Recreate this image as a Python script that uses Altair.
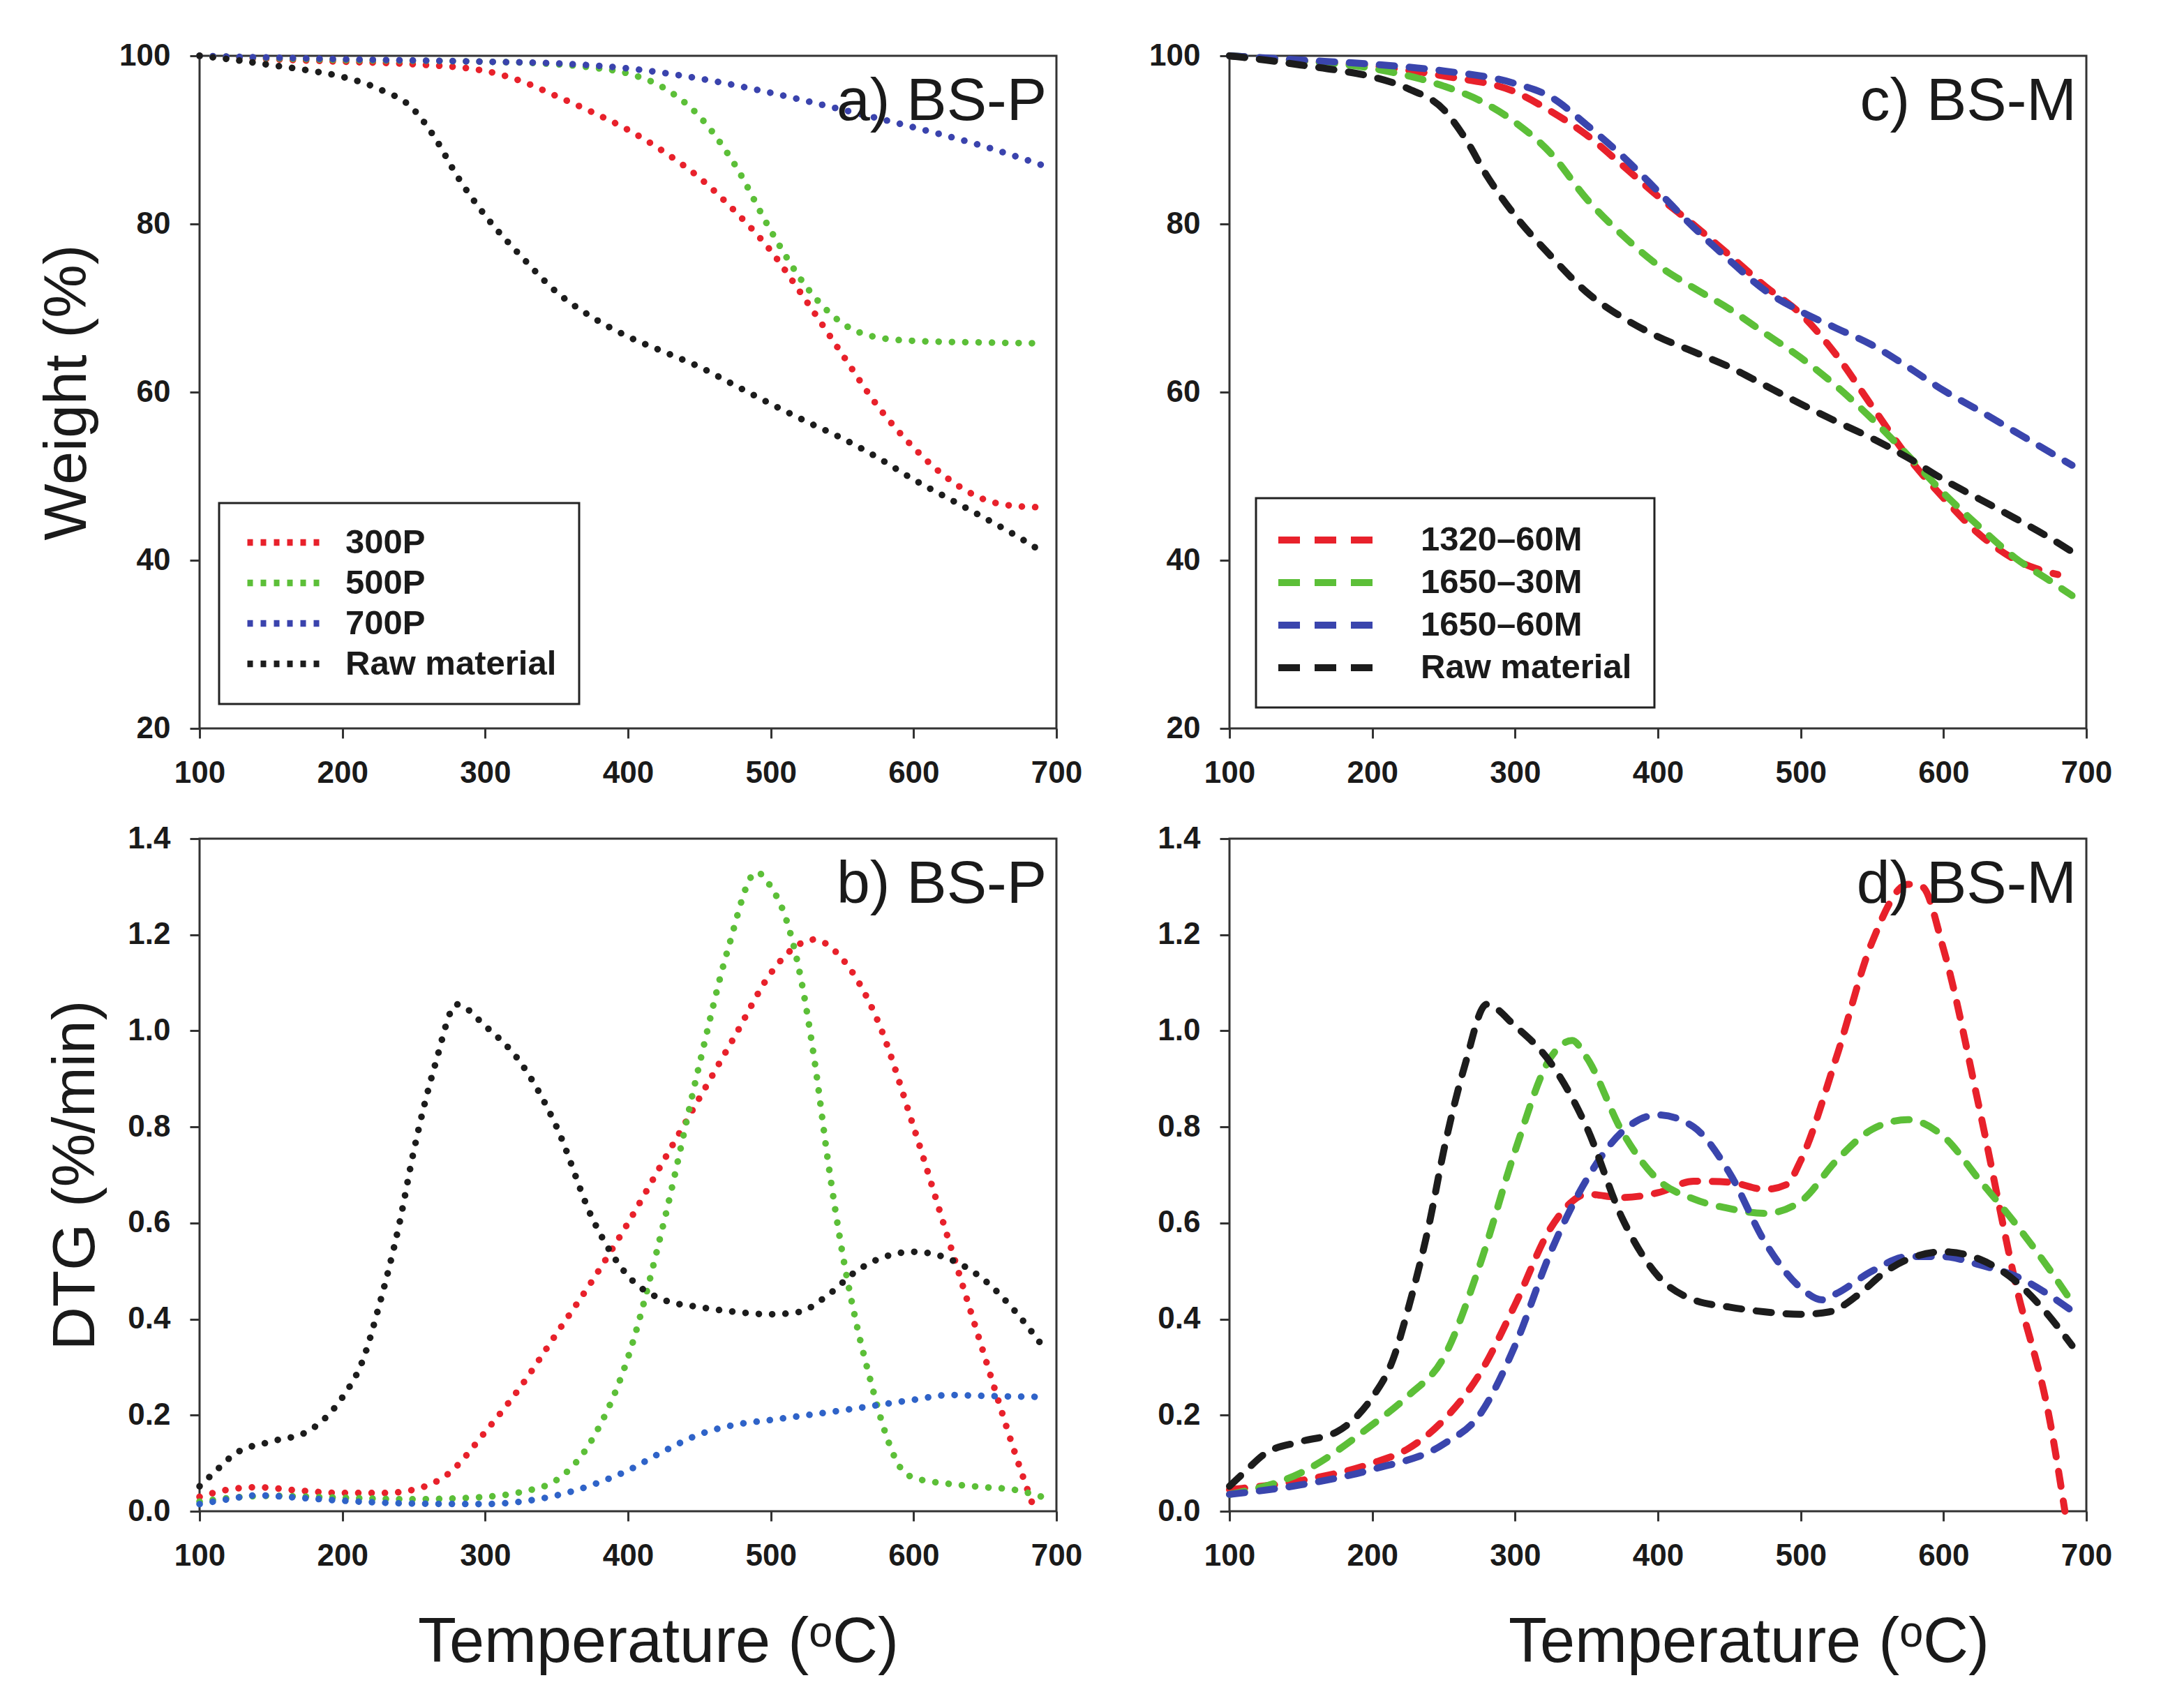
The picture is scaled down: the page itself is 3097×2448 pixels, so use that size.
import altair as alt
import pandas as pd

FONT = "Liberation Sans"
TXT = "#1a1a1a"

# ---------------- data ----------------
# Panel a) BS-P, weight (%)
A_300P_T = [100, 150, 200, 250, 300, 325, 350, 375, 400, 425, 450, 475, 500, 525, 550, 575, 600, 625, 650, 675, 690]
A_300P_W = [100, 99.6, 99.3, 99.0, 98.2, 97.0, 95.2, 93.3, 91.2, 88.6, 85.5, 81.5, 76.8, 70.8, 64.5, 58.3, 53.4, 49.6, 47.2, 46.4, 46.3]
A_500P_T = [100, 200, 300, 350, 375, 400, 425, 450, 475, 500, 525, 550, 575, 600, 650, 690]
A_500P_W = [100, 99.5, 99.3, 99.0, 98.6, 97.9, 96.2, 92.8, 87.0, 79.2, 72.5, 68.2, 66.5, 66.1, 65.9, 65.8]
A_700P_T = [100, 200, 300, 350, 400, 450, 500, 550, 600, 650, 690]
A_700P_W = [100, 99.6, 99.3, 99.1, 98.5, 97.3, 95.6, 93.6, 91.5, 89.2, 87.0]
RAW_W_T = [100, 125, 150, 175, 200, 225, 250, 265, 280, 300, 325, 350, 375, 400, 425, 450, 475, 500, 525, 550, 575, 600, 625, 650, 675, 690]
RAW_W = [100, 99.5, 98.9, 98.3, 97.5, 96.1, 93.6, 90.2, 85.8, 81.0, 76.2, 71.9, 68.9, 66.6, 64.8, 63.0, 60.8, 58.6, 56.5, 54.5, 52.2, 49.6, 47.3, 45.0, 42.6, 41.0]

# Panel c) BS-M, weight (%)
C_1320_60_T = [100, 150, 200, 250, 300, 325, 350, 375, 400, 425, 450, 475, 500, 525, 550, 575, 600, 625, 650, 665, 680]
C_1320_60_W = [100, 99.4, 98.8, 97.6, 95.7, 93.4, 90.6, 87.0, 83.3, 79.9, 76.3, 72.6, 69.3, 64.4, 58.3, 52.3, 47.4, 43.1, 40.1, 39.0, 38.3]
C_1650_30_T = [100, 150, 200, 250, 275, 300, 325, 350, 375, 400, 425, 450, 475, 500, 525, 550, 575, 600, 625, 650, 675, 690]
C_1650_30_W = [100, 99.4, 98.5, 96.4, 94.7, 92.1, 88.4, 83.0, 78.7, 75.1, 72.4, 69.9, 67.0, 64.1, 60.7, 56.8, 52.5, 48.0, 44.0, 40.3, 37.5, 35.8]
C_1650_60_T = [100, 150, 200, 250, 300, 325, 350, 375, 400, 425, 450, 475, 500, 525, 550, 575, 600, 625, 650, 675, 690]
C_1650_60_W = [100, 99.5, 99.0, 98.2, 96.7, 95.1, 91.8, 88.1, 83.9, 79.6, 75.7, 72.1, 69.6, 67.6, 65.6, 63.0, 60.2, 57.8, 55.3, 52.8, 51.3]

# Panel b) / d) raw material DTG (%/min)
RAW_D_T = [100, 110, 125, 150, 175, 190, 200, 215, 225, 240, 250, 265, 280, 300, 325, 350, 375, 400, 425, 450, 475, 500, 520, 540, 560, 580, 600, 625, 650, 670, 690]
RAW_D = [0.052, 0.08, 0.12, 0.145, 0.165, 0.20, 0.237, 0.32, 0.42, 0.60, 0.75, 0.93, 1.055, 1.01, 0.933, 0.80, 0.61, 0.49, 0.44, 0.425, 0.415, 0.41, 0.415, 0.45, 0.50, 0.53, 0.54, 0.525, 0.48, 0.42, 0.345]

# Panel b) BS-P, DTG (%/min)
B_300P_T = [100, 120, 140, 170, 200, 230, 250, 275, 300, 325, 350, 375, 400, 425, 450, 475, 500, 515, 530, 550, 575, 600, 625, 650, 670, 685]
B_300P_D = [0.03, 0.045, 0.05, 0.043, 0.038, 0.038, 0.045, 0.08, 0.165, 0.26, 0.37, 0.48, 0.60, 0.73, 0.86, 0.99, 1.12, 1.17, 1.19, 1.15, 1.02, 0.80, 0.56, 0.32, 0.13, 0.0]
B_500P_T = [100, 130, 150, 200, 250, 300, 325, 350, 375, 400, 425, 450, 470, 490, 500, 511, 521, 531, 540, 550, 560, 570, 580, 590, 600, 625, 650, 670, 690]
B_500P_D = [0.02, 0.03, 0.032, 0.028, 0.025, 0.03, 0.04, 0.065, 0.15, 0.32, 0.60, 0.93, 1.17, 1.33, 1.30, 1.23, 1.11, 0.93, 0.73, 0.54, 0.39, 0.27, 0.165, 0.094, 0.07, 0.057, 0.05, 0.045, 0.03]
B_700P_T = [100, 120, 140, 170, 200, 250, 300, 325, 350, 375, 400, 425, 450, 475, 500, 550, 600, 625, 650, 690]
B_700P_D = [0.015, 0.025, 0.033, 0.028, 0.022, 0.016, 0.015, 0.02, 0.033, 0.055, 0.085, 0.125, 0.16, 0.18, 0.19, 0.21, 0.232, 0.242, 0.24, 0.238]

# Panel d) BS-M, DTG (%/min)
D_1320_60_T = [100, 150, 200, 225, 250, 275, 300, 325, 340, 350, 375, 400, 425, 450, 475, 490, 500, 525, 550, 575, 585, 600, 625, 650, 675, 685]
D_1320_60_D = [0.045, 0.064, 0.10, 0.13, 0.19, 0.285, 0.43, 0.59, 0.645, 0.66, 0.653, 0.663, 0.687, 0.685, 0.67, 0.68, 0.73, 0.945, 1.185, 1.305, 1.30, 1.17, 0.84, 0.48, 0.18, 0.0]
D_1650_30_T = [100, 150, 200, 225, 250, 275, 300, 325, 340, 350, 375, 400, 425, 450, 475, 500, 525, 550, 575, 600, 625, 650, 675, 690]
D_1650_30_D = [0.035, 0.08, 0.18, 0.24, 0.32, 0.51, 0.75, 0.945, 0.98, 0.945, 0.79, 0.69, 0.65, 0.63, 0.62, 0.645, 0.73, 0.795, 0.815, 0.78, 0.69, 0.60, 0.50, 0.435]
D_1650_60_T = [100, 150, 200, 250, 275, 300, 325, 350, 375, 400, 425, 450, 475, 500, 515, 525, 550, 575, 600, 625, 650, 690]
D_1650_60_D = [0.035, 0.055, 0.087, 0.14, 0.20, 0.345, 0.54, 0.69, 0.79, 0.825, 0.80, 0.705, 0.56, 0.465, 0.44, 0.453, 0.50, 0.53, 0.53, 0.513, 0.49, 0.417]

P_SERIES = ["300P", "500P", "700P", "Raw material"]
M_SERIES = ["1320\u201360M", "1650\u201330M", "1650\u201360M", "Raw material"]
PANEL_LABELS = ["a) BS-P", "b) BS-P", "c) BS-M", "d) BS-M"]
X_TICKS = [100, 200, 300, 400, 500, 600, 700]
W_TICKS = [20, 40, 60, 80, 100]
D_TICKS = [0.0, 0.2, 0.4, 0.6, 0.8, 1.0, 1.2, 1.4]

RED, GREEN, BLACK = "#e8212b", "#5cbf38", "#1c1c1c"
P_COLORS_A = [RED, GREEN, "#3a43ad", BLACK]
P_COLORS_B = [RED, GREEN, "#2f63c8", BLACK]
M_COLORS = [RED, GREEN, "#3a45ad", BLACK]


def frame(series_names, pairs):
    rows = []
    for name, (ts, vs) in zip(series_names, pairs):
        for t, v in zip(ts, vs):
            rows.append({"T": t, "v": v, "s": name})
    return pd.DataFrame(rows)


df_a = frame(P_SERIES, [(A_300P_T, A_300P_W), (A_500P_T, A_500P_W), (A_700P_T, A_700P_W), (RAW_W_T, RAW_W)])
df_b = frame(P_SERIES, [(B_300P_T, B_300P_D), (B_500P_T, B_500P_D), (B_700P_T, B_700P_D), (RAW_D_T, RAW_D)])
df_c = frame(M_SERIES, [(C_1320_60_T, C_1320_60_W), (C_1650_30_T, C_1650_30_W), (C_1650_60_T, C_1650_60_W), (RAW_W_T, RAW_W)])
df_d = frame(M_SERIES, [(D_1320_60_T, D_1320_60_D), (D_1650_30_T, D_1650_30_D), (D_1650_60_T, D_1650_60_D), (RAW_D_T, RAW_D)])

W, H = 1228, 964
DOT = dict(strokeDash=[0.1, 19], strokeCap="round", strokeWidth=9.5)
DASH = dict(strokeDash=[22, 21], strokeCap="round", strokeWidth=10)

AX = dict(labelFont=FONT, labelFontSize=44, labelFontWeight="bold", labelColor=TXT,
          titleFont=FONT, titleFontWeight="normal", titleColor=TXT,
          tickSize=14, tickWidth=3, tickColor="#333333", domain=False, grid=False,
          labelPadding=28, labelFlush=False)


def legend(x, y, half_len, dash, sw, sym_offset, label_offset):
    s = (2 * half_len / 3.0) ** 2
    return alt.Legend(orient="none", legendX=x, legendY=y, title=None,
                      symbolType="M-3,0H3", symbolSize=s, symbolStrokeWidth=sw,
                      symbolDash=dash, symbolFillColor="transparent",
                      labelFont=FONT, labelFontSize=49, labelFontWeight="bold",
                      labelColor=TXT, labelOffset=label_offset, labelLimit=0,
                      strokeColor="#222222", fillColor="white", padding=32,
                      rowPadding=8, symbolOffset=sym_offset)


def panel(df, series, colors, style, y_title, y_dom, y_ticks, y_fmt, x_title, label, leg, title_dx):
    x_axis = alt.Axis(values=X_TICKS, title=x_title if x_title else None,
                      titlePadding=58, titleFontSize=90, titleX=W / 2 + title_dx, **AX)
    y_axis = alt.Axis(values=y_ticks, format=y_fmt, title=y_title if y_title else None,
                      titlePadding=30, titleFontSize=86, **AX)
    line = alt.Chart(df).mark_line(interpolate="monotone", **style).encode(
        x=alt.X("T:Q", scale=alt.Scale(domain=[100, 700], nice=False, zero=False), axis=x_axis),
        y=alt.Y("v:Q", scale=alt.Scale(domain=y_dom, nice=False, zero=False), axis=y_axis),
        color=alt.Color("s:N", scale=alt.Scale(domain=series, range=colors), sort=series,
                        legend=leg),
        detail="s:N",
    )
    txt = alt.Chart(pd.DataFrame({"label": [label]})).mark_text(
        align="right", baseline="alphabetic", font=FONT, fontSize=86, color=TXT
    ).encode(x=alt.value(W - 14), y=alt.value(92), text="label:N")
    return alt.layer(line, txt).properties(width=W, height=H)


TEMP = "Temperature (\u1d52C)"

pa = panel(df_a, P_SERIES, P_COLORS_A, DOT, "Weight (%)", [20, 100], W_TICKS, "d", None, PANEL_LABELS[0],
           legend(28, 641, 56, [8, 11], 9.5, 40, 60), 0)
pc = panel(df_c, M_SERIES, M_COLORS, DASH, None, [20, 100], W_TICKS, "d", None, PANEL_LABELS[2],
           legend(38, 634, 68, [31, 21], 10, 40, 108), 0)
pb = panel(df_b, P_SERIES, P_COLORS_B, DOT, "DTG (%/min)", [0, 1.4], D_TICKS, ".1f", TEMP, PANEL_LABELS[1],
           None, 43)
pd_ = panel(df_d, M_SERIES, M_COLORS, DASH, None, [0, 1.4], D_TICKS, ".1f", TEMP, PANEL_LABELS[3],
            None, 130)

chart = alt.concat(
    pa, pc, pb, pd_, columns=2, spacing={"row": 158, "column": 248}, bounds="flush"
).resolve_scale(
    color="independent"
).properties(
    padding={"left": 44, "top": 48, "right": 10, "bottom": 10}
).configure_view(
    stroke="#333333", strokeWidth=3
).configure_legend(
    strokeWidth=3
)

chart.save("out.html", embed_options={"renderer": "svg", "actions": False})
